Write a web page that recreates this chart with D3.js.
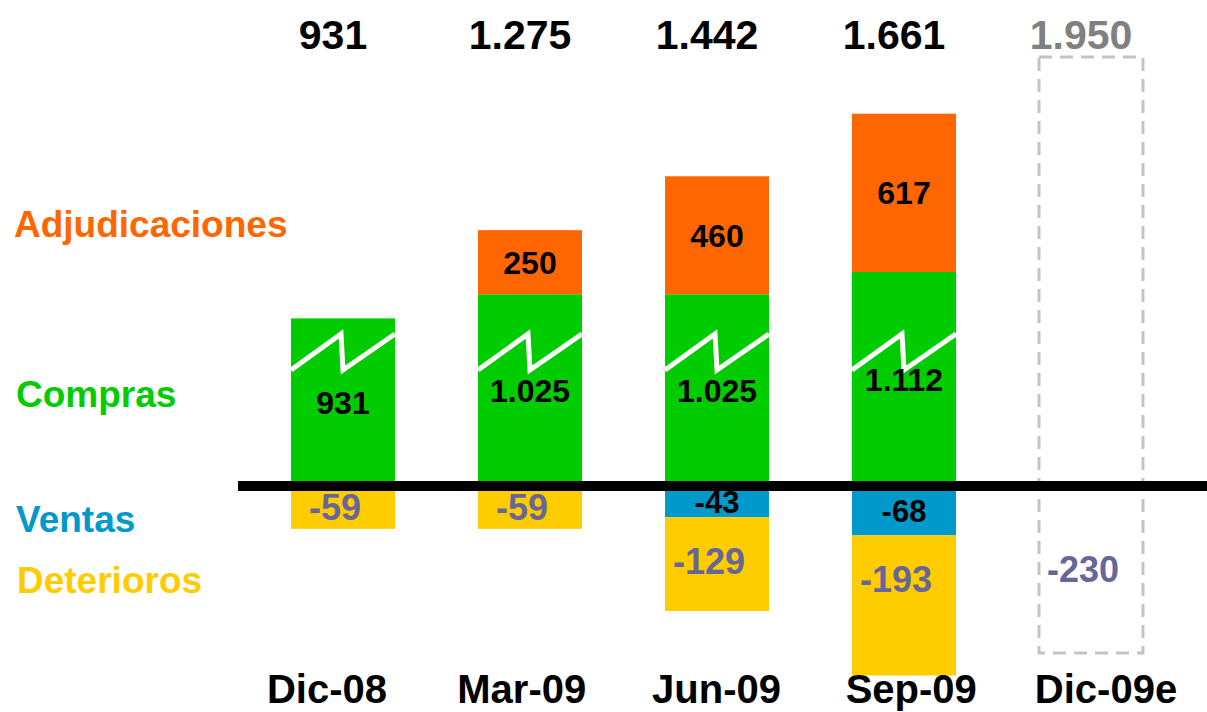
<!DOCTYPE html>
<html>
<head>
<meta charset="utf-8">
<script src="https://cdn.jsdelivr.net/npm/d3@7"></script>
<style>
  html, body { margin: 0; padding: 0; background: #ffffff; }
  svg { display: block; }
  text { font-family: "Liberation Sans", Arial, Helvetica, sans-serif; font-weight: bold; }
</style>
</head>
<body>
<svg id="chart" width="1207" height="712"></svg>
<script>
// Quarterly movements (millones de euros)
const categories     = ["Dic-08", "Mar-09", "Jun-09", "Sep-09", "Dic-09e"];
const compras        = [931, 1025, 1025, 1112, null];
const adjudicaciones = [0, 250, 460, 617, null];
const ventas         = [0, 0, -43, -68, null];
const deterioros     = [-59, -59, -129, -193, -230];
const totals         = [931, 1275, 1442, 1661, 1950];
const totalLabels    = ["931", "1.275", "1.442", "1.661", "1.950"];
const isEstimate     = [false, false, false, false, true];

const seriesNames  = ["Adjudicaciones", "Compras", "Ventas", "Deterioros"];
const seriesColors = ["#ff6600", "#00cc00", "#0099cc", "#ffcc00"];

// Number format with dot as thousands separator
const fmt = v => {
  const s = Math.abs(v).toString().replace(/\B(?=(\d{3})+(?!\d))/g, ".");
  return (v < 0 ? "-" : "") + s;
};

const svg = d3.select("#chart");

// Horizontal band per period
const x = d3.scaleBand()
  .domain(categories)
  .range([249.5, 1184.5])
  .paddingInner(0.444)
  .paddingOuter(0.222);

// Broken value axis: the stretch below BREAK is compressed (zig-zag on the bars)
const BREAK = 800;
const y = d3.scaleLinear()
  .domain([-230, 0, BREAK, 1950])
  .range([653, 486, 352, 57]);

// Category label positions
const xLabel = d3.scalePoint().domain(categories).range([327, 1106]);

// Build stacked segments
const segs = [];
categories.forEach((c, i) => {
  if (isEstimate[i]) return;
  const comp = compras[i], adj = adjudicaciones[i], ven = ventas[i], det = deterioros[i];
  segs.push({ c, key: "Compras", y0: 0, y1: comp, value: comp, color: seriesColors[1] });
  if (adj) segs.push({ c, key: "Adjudicaciones", y0: comp, y1: comp + adj, value: adj, color: seriesColors[0] });
  if (ven) segs.push({ c, key: "Ventas", y0: ven, y1: 0, value: ven, color: seriesColors[2] });
  if (det) segs.push({ c, key: "Deterioros", y0: ven + det, y1: ven, value: det, color: seriesColors[3] });
});

// Bars
svg.append("g").selectAll("rect")
  .data(segs)
  .join("rect")
  .attr("x", d => x(d.c))
  .attr("width", x.bandwidth())
  .attr("y", d => y(d.y1))
  .attr("height", d => y(d.y0) - y(d.y1))
  .attr("fill", d => d.color);

// Estimated period: dashed outline from estimated total down to estimated deterioros
categories.forEach((c, i) => {
  if (!isEstimate[i]) return;
  svg.append("rect")
    .attr("x", x(c))
    .attr("width", x.bandwidth())
    .attr("y", y(totals[i]))
    .attr("height", y(deterioros[i]) - y(totals[i]))
    .attr("fill", "none")
    .attr("stroke", "#c3c3c3")
    .attr("stroke-width", 3)
    .attr("stroke-dasharray", "13,8");
});

// Axis-break zig-zag on each Compras segment
const zig = d3.line();
segs.filter(d => d.key === "Compras").forEach(d => {
  const x0 = x(d.c), x1 = x0 + x.bandwidth(), xc = x0 + x.bandwidth() / 2;
  const yc = y(BREAK);
  svg.append("path")
    .attr("d", zig([[x0, yc + 18], [xc - 2, yc - 18], [xc, yc + 18], [x1, yc - 18]]))
    .attr("fill", "none")
    .attr("stroke", "#ffffff")
    .attr("stroke-width", 5)
    .attr("stroke-linejoin", "miter");
});

// Zero line
svg.append("rect")
  .attr("x", 238).attr("width", 1207 - 238)
  .attr("y", y(0) - 5).attr("height", 10)
  .attr("fill", "#000000");

// Segment value labels
const labelStyle = {
  "Compras":        { size: 32, color: "#000000", dx: 0 },
  "Adjudicaciones": { size: 32, color: "#000000", dx: 0 },
  "Ventas":         { size: 31, color: "#000000", dx: 0 },
  "Deterioros":     { size: 36, color: "#666699", dx: -8 }
};
svg.append("g").selectAll("text")
  .data(segs)
  .join("text")
  .attr("x", d => x(d.c) + x.bandwidth() / 2 + labelStyle[d.key].dx)
  .attr("y", d => {
    const top = y(d.y1), mid = (y(d.y0) + y(d.y1)) / 2;
    return d.key === "Deterioros" ? Math.min(mid, top + 44) : mid;
  })
  .attr("dy", "0.36em")
  .attr("text-anchor", "middle")
  .attr("font-size", d => labelStyle[d.key].size)
  .attr("fill", d => labelStyle[d.key].color)
  .text(d => fmt(d.value));

// Estimated deterioros label inside the dashed box
categories.forEach((c, i) => {
  if (!isEstimate[i]) return;
  svg.append("text")
    .attr("x", x(c) + x.bandwidth() / 2 - 8)
    .attr("y", (y(0) + y(deterioros[i])) / 2)
    .attr("dy", "0.36em")
    .attr("text-anchor", "middle")
    .attr("font-size", 36)
    .attr("fill", "#666699")
    .text(fmt(deterioros[i]));
});

// Period totals along the top
svg.append("g").selectAll("text")
  .data(categories)
  .join("text")
  .attr("x", c => x(c) + x.bandwidth() / 2 - 10)
  .attr("y", 49)
  .attr("text-anchor", "middle")
  .attr("font-size", 41)
  .attr("fill", (c, i) => isEstimate[i] ? "#808080" : "#000000")
  .text((c, i) => totalLabels[i]);

// Period names along the bottom
svg.append("g").selectAll("text")
  .data(categories)
  .join("text")
  .attr("x", c => xLabel(c))
  .attr("y", 703)
  .attr("text-anchor", "middle")
  .attr("font-size", 40)
  .attr("fill", "#000000")
  .text(c => c);

// Series names on the left
const legendPos = [
  { x: 14, y: 237 },
  { x: 16, y: 407 },
  { x: 16, y: 532 },
  { x: 17, y: 593 }
];
svg.append("g").selectAll("text")
  .data(seriesNames)
  .join("text")
  .attr("x", (d, i) => legendPos[i].x)
  .attr("y", (d, i) => legendPos[i].y)
  .attr("font-size", 37)
  .attr("fill", (d, i) => seriesColors[i])
  .text(d => d);
</script>
</body>
</html>
